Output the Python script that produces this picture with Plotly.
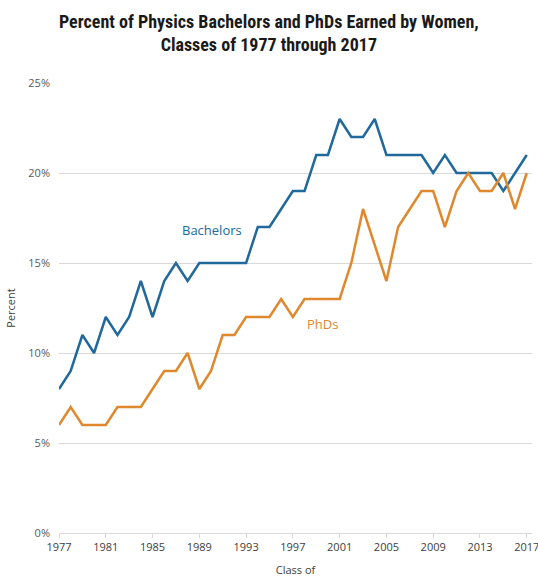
import plotly.graph_objects as go

years = list(range(1977, 2018))
bachelors = [8, 9, 11, 10, 12, 11, 12, 14, 12, 14, 15, 14, 15, 15, 15, 15, 15, 17, 17, 18, 19,
             19, 21, 21, 23, 22, 22, 23, 21, 21, 21, 21, 20, 21, 20, 20, 20, 20, 19, 20, 21]
phds = [6, 7, 6, 6, 6, 7, 7, 7, 8, 9, 9, 10, 8, 9, 11, 11, 12, 12, 12, 13, 12,
        13, 13, 13, 13, 15, 18, 16, 14, 17, 18, 19, 19, 17, 19, 20, 19, 19, 20, 18, 20]
tick_years = list(range(1977, 2018, 4))
y_ticks = [0, 5, 10, 15, 20, 25]

blue = "#20699A"
orange = "#E0882D"

fig = go.Figure()
fig.add_trace(go.Scatter(x=years, y=[v / 100 for v in bachelors], mode="lines",
                         line=dict(color=blue, width=2.5), name="Bachelors"))
fig.add_trace(go.Scatter(x=years, y=[v / 100 for v in phds], mode="lines",
                         line=dict(color=orange, width=2.5), name="PhDs"))

fig.add_annotation(x=1990.05, y=0.1683, text="Bachelors", showarrow=False,
                   font=dict(color=blue, size=13, family="Open Sans"))
fig.add_annotation(x=1999.5, y=0.116, text="PhDs", showarrow=False,
                   font=dict(color=orange, size=13, family="Open Sans"))

# Title (as paper-anchored annotation so both lines stay inside the page)
fig.add_annotation(x=(269 - 59) / 473, xref="paper", y=1 + (83 - 9) / 450, yref="paper",
                   xanchor="center", yanchor="top", showarrow=False, align="center",
                   text="<b>Percent of Physics Bachelors and PhDs Earned by Women,<br>Classes of 1977 through 2017</b>",
                   font=dict(family="Roboto Condensed", size=18, color="#1a1a1a"))

fig.update_layout(
    width=538, height=577,
    margin=dict(l=59, r=6, t=83, b=44, autoexpand=False),
    plot_bgcolor="white", paper_bgcolor="white",
    showlegend=False,
    font=dict(family="Open Sans", size=11, color="#595959"),
    xaxis=dict(range=[1977, 2017.45], tickmode="array", tickvals=tick_years,
               ticktext=[str(t) for t in tick_years], showgrid=False,
               showline=True, linecolor="#D9D9D9", linewidth=1,
               ticks="outside", ticklen=4, tickcolor="#D9D9D9",
               ticklabeloverflow="allow", automargin=False,
               tickfont=dict(size=11, color="#404040"),
               title=dict(text="Class of", font=dict(size=11, color="#404040"), standoff=14),
               zeroline=False),
    yaxis=dict(range=[0, 0.25], tickmode="array", tickvals=[v / 100 for v in y_ticks],
               ticktext=[f"{v}%" for v in y_ticks], showgrid=True, gridcolor="#D9D9D9",
               gridwidth=1, zeroline=False, showline=False, ticks="",
               ticklabelstandoff=8, automargin=False,
               tickfont=dict(size=11, color="#595959"),
               title=dict(text="Percent", font=dict(size=11, color="#404040"), standoff=10)),
)

fig.write_html("out.html", config={"displayModeBar": False},
               post_script="document.body.style.margin='0';document.body.style.overflow='hidden';")
